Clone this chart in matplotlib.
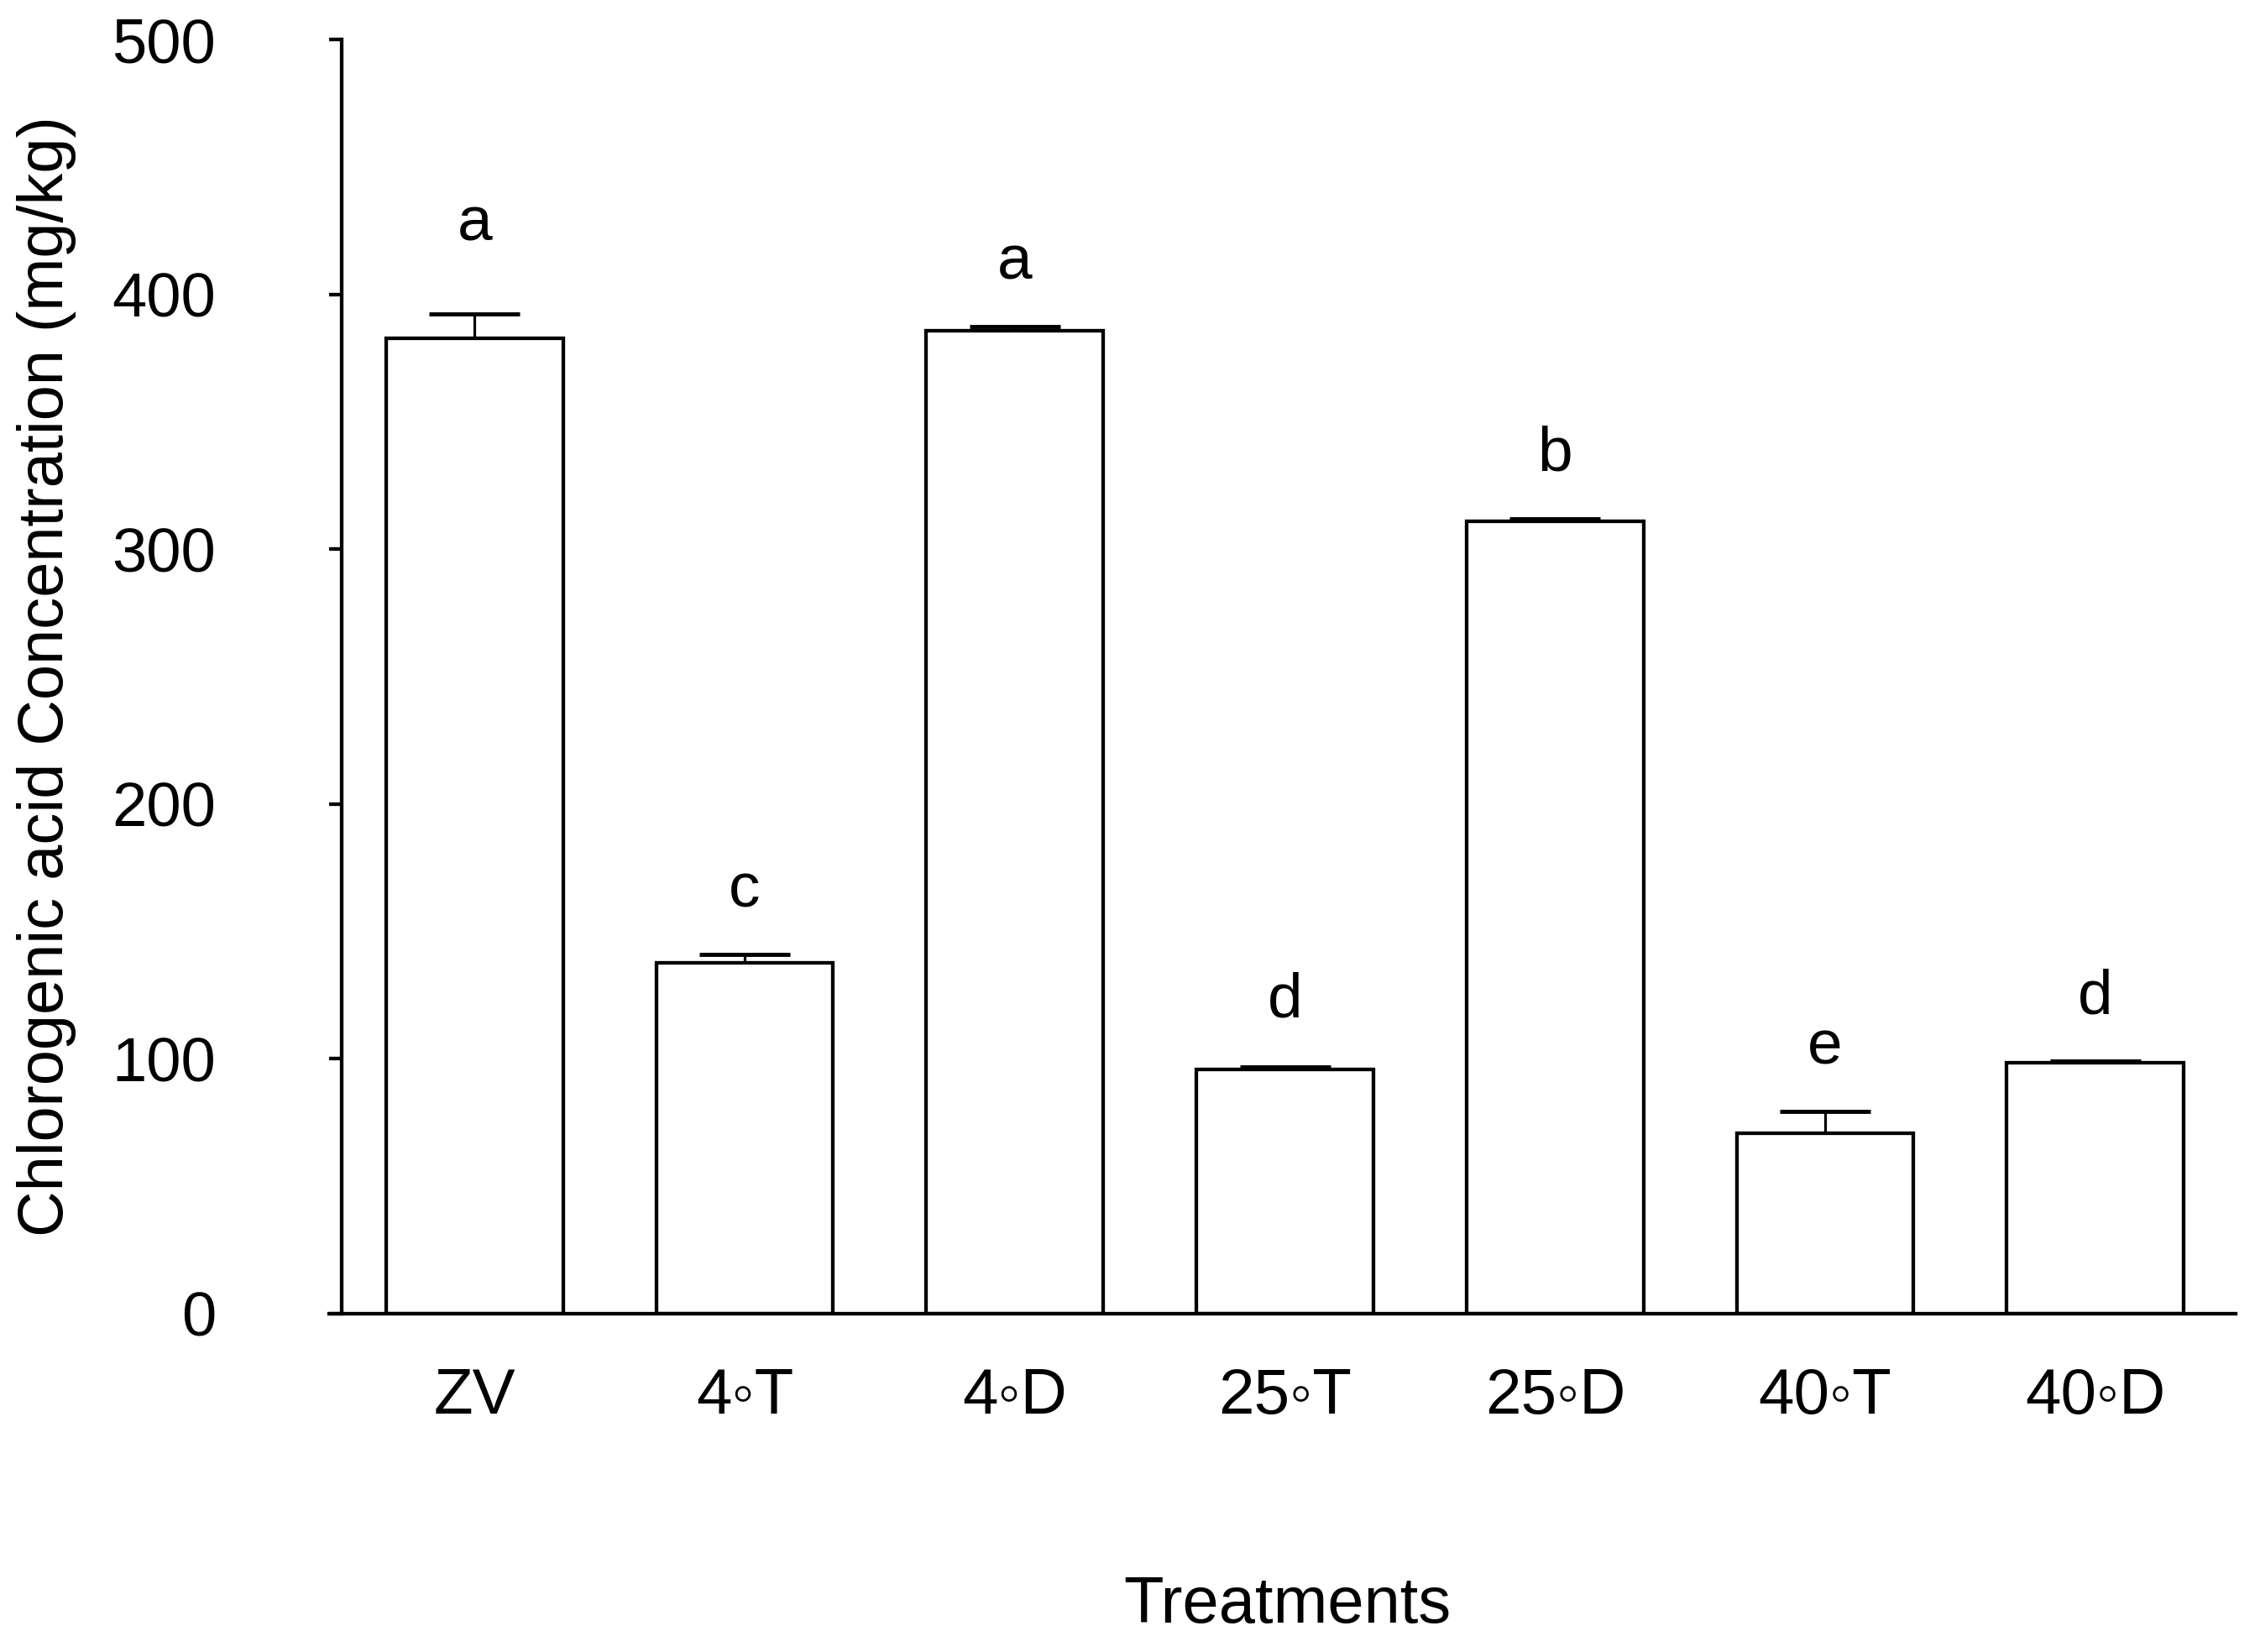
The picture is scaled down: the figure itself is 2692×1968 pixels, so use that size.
import matplotlib.pyplot as plt

plt.rcParams['font.family'] = ['Liberation Sans', 'DejaVu Sans']

treatments = ['ZV', '4\u25e6T', '4\u25e6D', '25\u25e6T', '25\u25e6D', '40\u25e6T', '40\u25e6D']
means = [382.8, 137.6, 385.6, 95.7, 310.9, 70.8, 98.5]
errors = [9.6, 3.4, 1.7, 1.1, 1.1, 8.5, 0.6]
letters = ['a', 'c', 'a', 'd', 'b', 'e', 'd']

fig = plt.figure(figsize=(26.92, 19.68), dpi=100)
ax = fig.add_axes([0.1512, 0.2048, 0.8369, 0.7713])

x = list(range(len(treatments)))
ax.bar(x, means, width=0.655, color='white', edgecolor='black', linewidth=3.1, zorder=2)
ax.errorbar(x, means, yerr=[[0] * len(errors), errors], fmt='none', ecolor='black',
            elinewidth=2.3, capsize=39, capthick=3.5, zorder=1)

# significance letters above the error bars (ZV sits a little higher)
gap = [77, 55, 55, 57, 55, 55, 55]
for xi, m, e, lab, g in zip(x, means, errors, letters, gap):
    ax.annotate(lab, (xi, m + e), xytext=(0, g), textcoords='offset points',
                ha='center', va='center', fontsize=54)

ax.set_xlim(-0.492, 6.51)
ax.set_ylim(0, 500)
ax.set_yticks([0, 100, 200, 300, 400, 500])
ax.set_xticks(x)
ax.set_xticklabels(treatments)

for side in ['top', 'right']:
    ax.spines[side].set_visible(False)
for side in ['left', 'bottom']:
    ax.spines[side].set_linewidth(3.1)
ax.spines['bottom'].set_bounds(-0.492 - 15 / 322, 6.52)

ax.tick_params(axis='y', direction='out', length=11, width=3.1, pad=97, labelsize=53.5)
ax.tick_params(axis='x', length=0, pad=46, labelsize=55)

ax.set_ylabel('Chlorogenic acid Concentration (mg/kg)', fontsize=54.5, va='center')
ax.yaxis.set_label_coords(-0.156, 0.5)
ax.set_xlabel('Treatments', fontsize=56, va='center')
ax.xaxis.set_label_coords(0.5, -0.229)

plt.savefig('out.png', dpi=100)
